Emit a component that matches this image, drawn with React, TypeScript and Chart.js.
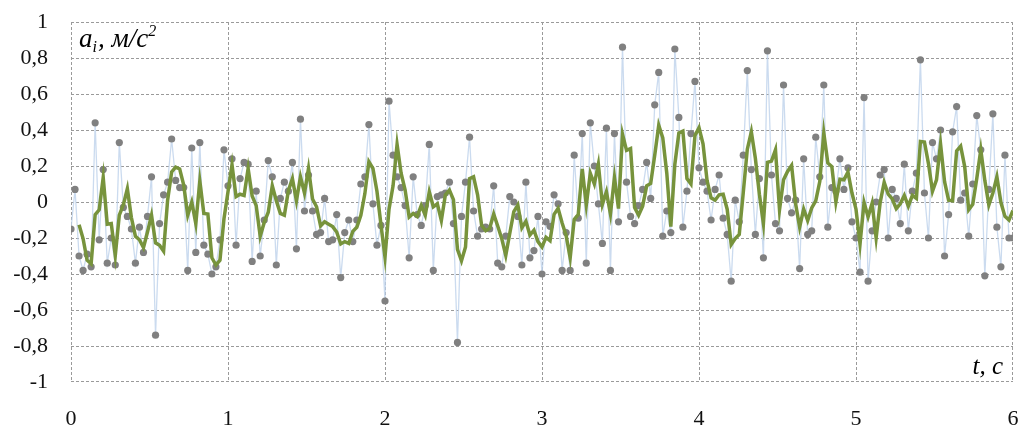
import React, { useEffect, useRef } from "react";
import { Chart, registerables } from "chart.js";

Chart.register(...registerables);

// Measured acceleration a_i (m/s^2), sampled at 39 Hz, split per second of record
const SAMPLE_RATE = 39;
const ACC_SEC_0 = [-0.15, 0.07, -0.30, -0.38, -0.29, -0.36, 0.44, -0.21, 0.18, -0.34, -0.20, -0.35, 0.33, -0.03, -0.08, -0.15, -0.34, -0.14, -0.28, -0.08, 0.14, -0.74, -0.12, 0.04, 0.11, 0.35, 0.12, 0.08, 0.08, -0.38, 0.30, -0.28, 0.33, -0.24, -0.29, -0.40, -0.36, -0.21, 0.29];
const ACC_SEC_1 = [0.09, 0.24, -0.24, 0.13, 0.22, 0.21, -0.33, 0.06, -0.30, -0.10, 0.23, 0.14, -0.35, 0.02, 0.11, 0.06, 0.22, -0.26, 0.46, -0.05, 0.15, -0.05, -0.18, -0.17, 0.02, -0.22, -0.21, -0.07, -0.42, -0.17, -0.10, -0.22, -0.10, 0.10, 0.14, 0.43, -0.01, -0.24, -0.13];
const ACC_SEC_2 = [-0.55, 0.56, 0.26, 0.14, 0.08, -0.02, -0.31, 0.14, -0.07, -0.13, -0.02, 0.32, -0.38, 0.03, 0.04, 0.05, 0.11, -0.12, -0.78, -0.08, 0.11, 0.36, -0.05, -0.19, -0.15, -0.14, -0.15, 0.09, -0.34, -0.36, -0.19, 0.03, 0.00, -0.08, -0.35, 0.11, -0.31, -0.27, -0.08];
const ACC_SEC_3 = [-0.40, -0.11, -0.135, 0.04, -0.01, -0.38, -0.17, -0.38, 0.26, -0.09, 0.38, -0.34, 0.44, 0.20, -0.01, -0.23, 0.41, -0.38, 0.38, -0.11, 0.86, 0.11, -0.08, -0.12, -0.02, 0.07, 0.22, 0.02, 0.54, 0.72, -0.19, -0.05, -0.17, 0.85, 0.47, -0.14, 0.06, 0.38, 0.67];
const ACC_SEC_4 = [0.19, 0.11, 0.06, -0.10, 0.07, 0.15, -0.09, -0.18, -0.44, 0.01, -0.11, 0.26, 0.73, 0.18, -0.18, 0.13, -0.31, 0.84, 0.15, -0.12, -0.16, 0.65, 0.02, -0.06, 0.01, -0.37, 0.24, -0.18, -0.16, 0.36, 0.14, 0.65, -0.14, 0.08, 0.06, 0.24, 0.07, 0.19, -0.11];
const ACC_SEC_5 = [-0.20, -0.39, 0.58, -0.44, -0.16, 0.00, 0.15, 0.18, -0.20, 0.07, 0.02, -0.12, 0.21, -0.16, 0.06, 0.16, 0.79, 0.05, -0.20, 0.33, 0.24, 0.40, -0.30, -0.07, 0.39, 0.53, 0.01, 0.05, -0.19, 0.10, 0.48, 0.29, -0.41, 0.07, 0.49, -0.14, -0.36, 0.26, -0.20, -0.20];

// Moving-average trendline period (as in the source chart's trendline)
const TREND_PERIOD = 3;

const X_TICKS = ["0", "1", "2", "3", "4", "5", "6"];
const Y_TICKS = ["-1", "-0,8", "-0,6", "-0,4", "-0,2", "0", "0,2", "0,4", "0,6", "0,8", "1"];
const Y_TITLE = ["a", "i", ", м/с", "2"];
const X_TITLE = "t, с";

const SERIF = '"Liberation Serif", "Times New Roman", serif';
const GRID_COLOR = "#9a9a9a";

// Dashed grid drawn at the scales' own tick positions
const dashedGridPlugin = {
  id: "dashedGrid",
  beforeDatasetsDraw(chart: any) {
    const { ctx, chartArea, scales } = chart;
    const { left, right, top, bottom } = chartArea;
    ctx.save();
    ctx.fillStyle = GRID_COLOR;
    for (const t of scales.x.ticks) {
      const px = Math.min(Math.round(scales.x.getPixelForValue(t.value)), Math.round(right) - 1);
      for (let y = top; y < bottom; y += 5) ctx.fillRect(px, y, 1, Math.min(3, bottom - y));
    }
    for (const t of scales.y.ticks) {
      const py = Math.min(Math.round(scales.y.getPixelForValue(t.value)), Math.round(bottom) - 1);
      for (let x = left; x < right; x += 5) ctx.fillRect(x, py, Math.min(3, right - x), 1);
    }
    ctx.restore();
  },
};

const titlesPlugin = {
  id: "axisTitles",
  afterDraw(chart: any) {
    const { ctx, chartArea } = chart;
    ctx.save();
    ctx.fillStyle = "#000";
    ctx.textBaseline = "alphabetic";
    ctx.textAlign = "left";
    const big = `italic 27px ${SERIF}`;
    const small = `italic 16px ${SERIF}`;
    let x = chartArea.left + 8;
    const y = chartArea.top + 25;
    const parts: [string, string, number][] = [
      [Y_TITLE[0], big, 0],
      [Y_TITLE[1], small, 5],
      [Y_TITLE[2], big, 0],
      [Y_TITLE[3], small, -11],
    ];
    for (const [t, f, dy] of parts) {
      ctx.font = f;
      ctx.fillText(t, x, y + dy);
      x += ctx.measureText(t).width + (f === small ? 1 : 0);
    }
    ctx.font = `italic 25px ${SERIF}`;
    ctx.textAlign = "right";
    ctx.fillText(X_TITLE, chartArea.right - 10, chartArea.bottom - 8);
    ctx.restore();
  },
};

const zeroPad = (s: any) => {
  s.paddingTop = 0;
  s.paddingBottom = 0;
  s.paddingLeft = 0;
  s.paddingRight = 0;
};

export default function App() {
  const ref = useRef<HTMLCanvasElement>(null);
  useEffect(() => {
    const acc = [...ACC_SEC_0, ...ACC_SEC_1, ...ACC_SEC_2, ...ACC_SEC_3, ...ACC_SEC_4, ...ACC_SEC_5];
    const points = acc.map((v, i) => ({ x: i / SAMPLE_RATE, y: v }));
    const trend: { x: number; y: number }[] = [];
    for (let i = TREND_PERIOD - 1; i < acc.length; i++) {
      let s = 0;
      for (let k = 0; k < TREND_PERIOD; k++) s += acc[i - k];
      trend.push({ x: i / SAMPLE_RATE, y: s / TREND_PERIOD });
    }
    const chart = new Chart(ref.current!, {
      type: "line",
      data: {
        datasets: [
          {
            data: trend,
            borderColor: "#77933c",
            borderWidth: 3.5,
            pointRadius: 0,
            tension: 0,
            fill: false,
            order: 0,
          },
          {
            data: points,
            borderColor: "rgba(190,210,235,0.8)",
            borderWidth: 1.3,
            pointRadius: 3.6,
            pointBackgroundColor: "#808080",
            pointBorderWidth: 0,
            tension: 0,
            fill: false,
            order: 1,
          },
        ],
      },
      options: {
        responsive: false,
        animation: false,
        devicePixelRatio: 1,
        layout: { padding: { top: 22, right: 5, left: 0, bottom: 0 } },
        plugins: { legend: { display: false }, tooltip: { enabled: false } },
        scales: {
          x: {
            type: "linear",
            min: 0,
            max: 6,
            afterFit: (s: any) => { s.height = 46; zeroPad(s); },
            grid: { display: false, drawTicks: false },
            border: { display: false },
            ticks: {
              stepSize: 1,
              autoSkip: false,
              maxRotation: 0,
              padding: 24,
              color: "#111",
              font: { family: SERIF, size: 22 },
              callback: (v: any) => X_TICKS[Math.round(Number(v))],
            },
          },
          y: {
            type: "linear",
            min: -1,
            max: 1,
            afterFit: (s: any) => { s.width = 71; zeroPad(s); },
            grid: { display: false, drawTicks: false },
            border: { display: false },
            ticks: {
              stepSize: 0.2,
              autoSkip: false,
              padding: 23,
              color: "#111",
              font: { family: SERIF, size: 22 },
              callback: (v: any) => Y_TICKS[Math.round((Number(v) + 1) * 5)],
            },
          },
        },
      },
      plugins: [dashedGridPlugin, titlesPlugin],
    });
    return () => chart.destroy();
  }, []);
  return (
    <div style={{ position: "absolute", left: 0, top: 0, width: 1018, height: 428, background: "#fff" }}>
      <canvas ref={ref} width={1018} height={428} style={{ display: "block" }} />
    </div>
  );
}
